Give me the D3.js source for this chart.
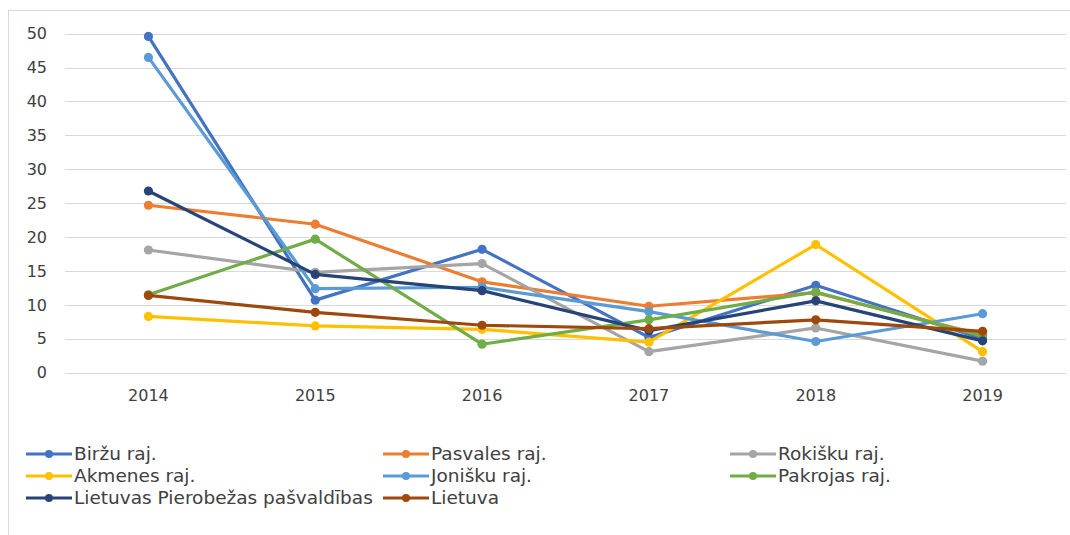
<!DOCTYPE html>
<html>
<head>
<meta charset="utf-8">
<script src="https://cdn.jsdelivr.net/npm/d3@7"></script>
<style>
  html, body { margin: 0; padding: 0; background: #fff; }
  svg { display: block; }
  text { font-family: "DejaVu Sans", sans-serif; fill: #404040; }
</style>
</head>
<body>
<svg id="chart" width="1070" height="535"></svg>
<script>
const years = ["2014", "2015", "2016", "2017", "2018", "2019"];
const yTicks = [0, 5, 10, 15, 20, 25, 30, 35, 40, 45, 50];
const seriesNames = ["Biržu raj.", "Pasvales raj.", "Rokišku raj.", "Akmenes raj.", "Jonišku raj.", "Pakrojas raj.", "Lietuvas Pierobežas pašvaldības", "Lietuva"];
const seriesColors = ["#4472C4", "#ED7D31", "#A5A5A5", "#FFC000", "#5B9BD5", "#70AD47", "#264478", "#9E480E"];
const birzu     = [49.6, 10.7, 18.2, 5.2, 12.9, 5.0];
const pasvales  = [24.7, 21.9, 13.4, 9.8, 11.8, 5.6];
const rokisku   = [18.1, 14.8, 16.1, 3.1, 6.6, 1.7];
const akmenes   = [8.3, 6.9, 6.4, 4.5, 18.9, 3.1];
const jonisku   = [46.5, 12.4, 12.6, 9.0, 4.6, 8.7];
const pakrojas  = [11.5, 19.7, 4.2, 7.8, 11.9, 5.4];
const pierobeza = [26.8, 14.5, 12.1, 6.2, 10.6, 4.7];
const lietuva   = [11.4, 8.9, 7.0, 6.5, 7.8, 6.1];
const seriesValues = [birzu, pasvales, rokisku, akmenes, jonisku, pakrojas, pierobeza, lietuva];

const svg = d3.select("#chart");
// chart border
svg.append("rect").attr("x", 8.5).attr("y", 10.5).attr("width", 1080).attr("height", 540)
  .attr("fill", "#fff").attr("stroke", "#D9D9D9").attr("stroke-width", 1);

const plot = { left: 65, right: 1066, top: 33.7, bottom: 372.7 };
const x = d3.scaleBand().domain(years).range([plot.left, plot.right]);
const y = d3.scaleLinear().domain([0, 50]).range([plot.bottom, plot.top]);

// gridlines
svg.append("g").selectAll("line").data(yTicks).join("line")
  .attr("x1", plot.left).attr("x2", plot.right)
  .attr("y1", d => Math.round(y(d)) + 0.5).attr("y2", d => Math.round(y(d)) + 0.5)
  .attr("stroke", "#D9D9D9").attr("stroke-width", 1);

// y axis labels
const yAxis = d3.axisLeft(y).tickValues(yTicks).tickSize(0).tickPadding(0);
const gy = svg.append("g").attr("transform", `translate(47,0)`).call(yAxis);
gy.select(".domain").remove();
gy.selectAll("text").attr("font-size", 16).attr("font-family", "DejaVu Sans, sans-serif").attr("fill", "#404040");

// x axis labels
const xAxis = d3.axisBottom(x).tickSize(0).tickPadding(0);
const gx = svg.append("g").attr("transform", `translate(0,${plot.bottom + 17})`).call(xAxis);
gx.select(".domain").remove();
gx.selectAll("text").attr("font-size", 16).attr("font-family", "DejaVu Sans, sans-serif").attr("fill", "#404040");

// series
const line = d3.line().x((d, i) => x(years[i]) + x.bandwidth() / 2).y(d => y(d));
seriesValues.forEach((vals, si) => {
  const g = svg.append("g");
  g.append("path").datum(vals).attr("d", line).attr("fill", "none")
    .attr("stroke", seriesColors[si]).attr("stroke-width", 3.2).attr("stroke-linejoin", "round").attr("stroke-linecap", "round");
  g.selectAll("circle").data(vals).join("circle")
    .attr("cx", (d, i) => x(years[i]) + x.bandwidth() / 2).attr("cy", d => y(d))
    .attr("r", 4.6).attr("fill", seriesColors[si]);
});

// legend
const colX = [26, 383, 730];
const rowY = [454, 476, 498];
const legend = svg.append("g");
seriesNames.forEach((name, i) => {
  const cx = colX[i % 3], cy = rowY[Math.floor(i / 3)];
  const g = legend.append("g").attr("transform", `translate(${cx},${cy})`);
  g.append("line").attr("x1", 0).attr("x2", 46).attr("y1", 0).attr("y2", 0)
    .attr("stroke", seriesColors[i]).attr("stroke-width", 3);
  g.append("circle").attr("cx", 23).attr("cy", 0).attr("r", 4).attr("fill", seriesColors[i]);
  g.append("text").attr("x", 48).attr("y", 0).attr("dy", "0.35em")
    .attr("font-size", 18.5).text(name);
});
</script>
</body>
</html>
